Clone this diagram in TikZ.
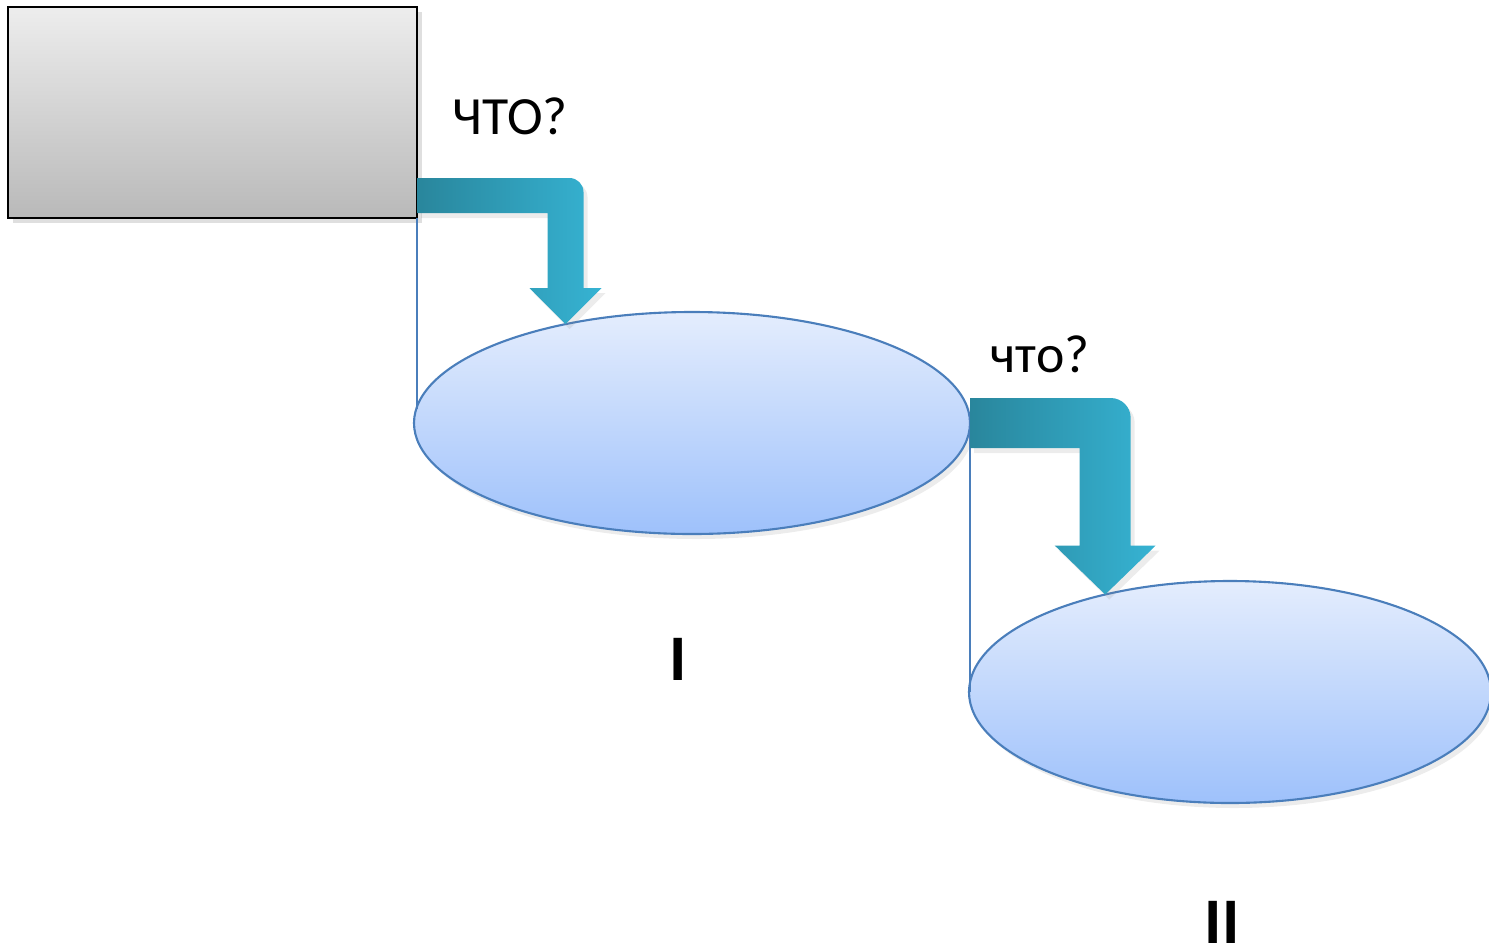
\documentclass[tikz,border=0pt]{standalone}
\usepackage{fontspec}
\setmainfont{Carlito}
\usetikzlibrary{shapes.geometric, calc, shadows}
\definecolor{boxtop}{HTML}{EDEDED}
\definecolor{boxbottom}{HTML}{B9B9B9}
\definecolor{stagetop}{HTML}{E4EDFD}
\definecolor{stagebottom}{HTML}{9EC1FB}
\definecolor{stageline}{HTML}{4A7EBB}
\definecolor{flowdark}{HTML}{29869C}
\definecolor{flowlight}{HTML}{36B3D3}
\tikzset{
  block/.style = {rectangle, draw=black, line width=0.6pt, top color=boxtop, bottom color=boxbottom, minimum width=4.09cm, minimum height=2.11cm, inner sep=0pt, outer sep=0pt, drop shadow={opacity=0.25, shadow xshift=0.5mm, shadow yshift=-0.5mm}},
  stage/.style = {ellipse, draw=stageline, line width=0.6pt, top color=stagetop, bottom color=stagebottom, minimum height=2.22cm, inner sep=0pt, outer sep=0pt, drop shadow={opacity=0.15, shadow xshift=0.4mm, shadow yshift=-0.5mm}},
  flow/.style = {left color=flowdark, right color=flowlight, drop shadow={opacity=0.15, shadow xshift=0.4mm, shadow yshift=-0.5mm}},
  link/.style = {draw=stageline, line width=0.45pt},
  question/.style = {font=\fontsize{15.3}{18}\selectfont, anchor=base, inner sep=0pt},
  stagelabel/.style = {font=\fontsize{18.5}{22}\selectfont\bfseries, anchor=base, inner sep=0pt}
}

\begin{document}
\begin{tikzpicture}

  \useasboundingbox (0,0) rectangle (14.89,-9.49);

  % Source box and the two levels
  \node (top) [block] at (2.125,-1.125) {};
  \node (lvlI) [stage, minimum width=5.56cm] at (6.92,-4.23) {};
  \node (lvlII) [stage, minimum width=5.22cm] at (12.30,-6.92) {};

  % Thin guide lines
  \draw[link] (top.south east) -- (top.south east |- lvlI.177);
  \draw[link] (lvlI.east) -- (lvlI.east |- lvlII.west);

  % Arrow ends
  \coordinate (s1) at ($(top.south east)+(0,0.225)$);
  \coordinate (t1) at (lvlI.142);
  \coordinate (s2) at (lvlI.east);
  \coordinate (t2) at (lvlII.142);

  % Bent arrow: box -> level I
  \path[flow] let \p1=(s1), \p2=(t1) in
    (\x1,\y1+1.75mm) -- (\x2+0.4mm,\y1+1.75mm) arc[start angle=90, end angle=0, radius=1.4mm]
    -- (\x2+1.8mm,\y2+3.6mm) -- (\x2+3.6mm,\y2+3.6mm) -- (\p2) -- (\x2-3.6mm,\y2+3.6mm)
    -- (\x2-1.8mm,\y2+3.6mm) -- (\x2-1.8mm,\y1-1.75mm) -- (\x1,\y1-1.75mm) -- cycle;

  % Bent arrow: level I -> level II
  \path[flow] let \p1=(s2), \p2=(t2) in
    (\x1,\y1+2.5mm) -- (\x2+0.55mm,\y1+2.5mm) arc[start angle=90, end angle=0, radius=2mm]
    -- (\x2+2.55mm,\y2+4.9mm) -- (\x2+5.05mm,\y2+4.9mm) -- (\p2) -- (\x2-5.05mm,\y2+4.9mm)
    -- (\x2-2.55mm,\y2+4.9mm) -- (\x2-2.55mm,\y1-2.5mm) -- (\x1,\y1-2.5mm) -- cycle;

  % Labels
  \node (q1) [question] at (5.10,-1.34) {ЧТО?};
  \node (q2) [question] at (10.40,-3.72) {что?};
  \node (n1) [stagelabel] at (6.78,-6.80) {I};
  \node (n2) [stagelabel] at (12.22,-9.43) {II};

\end{tikzpicture}
\end{document}
